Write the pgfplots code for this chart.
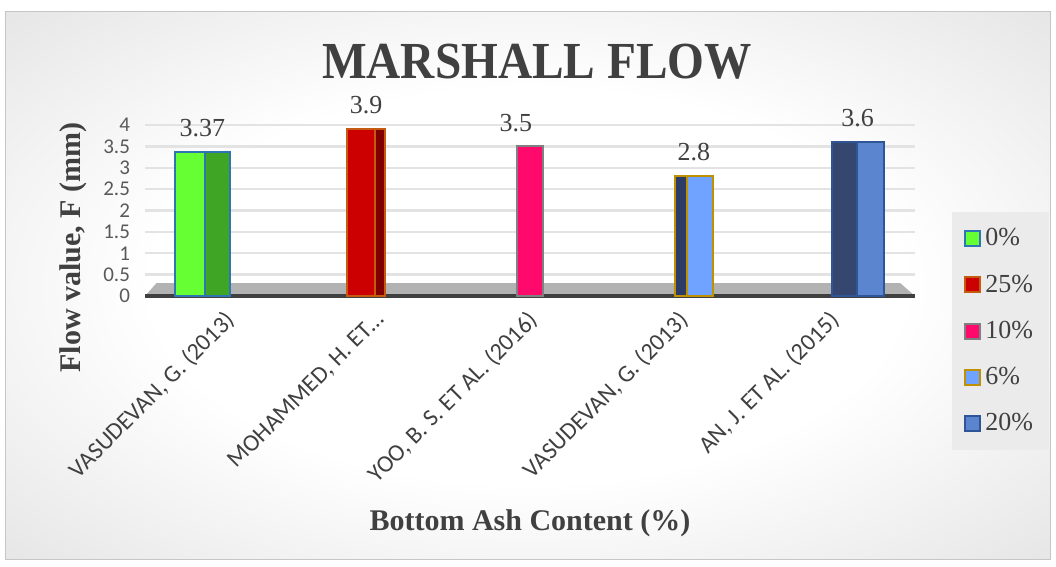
\documentclass[border=0pt]{standalone}
\usepackage{pgfplots}
\pgfplotsset{compat=1.18}
\usepackage{fontspec}
\setmainfont{Liberation Serif}
\newfontfamily\calib{Carlito}
\definecolor{txt}{HTML}{404040}
\definecolor{tickc}{HTML}{595959}
\definecolor{gA}{HTML}{66FF33}
\definecolor{gAs}{HTML}{3FA524}
\definecolor{gAe}{HTML}{2E75B6}
\definecolor{rB}{HTML}{CC0000}
\definecolor{rBs}{HTML}{800000}
\definecolor{rBe}{HTML}{C55A11}
\definecolor{pC}{HTML}{FF0A6C}
\definecolor{pCe}{HTML}{808080}
\definecolor{bD}{HTML}{6FA3FF}
\definecolor{bDs}{HTML}{2B3D66}
\definecolor{bDe}{HTML}{BF9000}
\definecolor{bE}{HTML}{5B86CF}
\definecolor{bEs}{HTML}{35476F}
\definecolor{bEe}{HTML}{2F5597}
\pgfdeclareradialshading{bgshade}{\pgfpoint{0bp}{0bp}}{color(0bp)=(white); color(18bp)=(white); color(50bp)=(gray!36); color(72bp)=(gray!46)}
\pgfplotsset{sq/.style={legend image code/.code={\draw[##1,line width=1pt] (0pt,-3.75pt) rectangle (7.5pt,3.75pt);}}}
\begin{document}
\begin{tikzpicture}
\useasboundingbox (0,0) rectangle (528pt,283.5pt);
\shade[shading=bgshade] (2.5pt,3.5pt) rectangle (525pt,277.5pt);
\draw[gray!45, line width=0.5pt] (2.5pt,3.5pt) rectangle (525pt,277.5pt);
\node[font=\fontsize{26}{30}\selectfont\bfseries, text=txt, xscale=0.91] at (268.5pt,252.5pt) {MARSHALL FLOW};
\node[font=\fontsize{15}{18}\selectfont\bfseries, text=txt] at (265pt,22pt) {Bottom Ash Content (\%)};
\node[font=\fontsize{15}{18}\selectfont\bfseries, text=txt, rotate=90] at (36.5pt,159.75pt) {Flow value, F (mm)};
\begin{axis}[
  at={(72.5pt,135.5pt)}, anchor=south west,
  scale only axis, width=385pt, height=85.5pt,
  xmin=-0.35, xmax=4.35, ymin=0, ymax=4,
  clip=false,
  axis line style={draw=none},
  tick style={draw=none},
  ymajorgrids, grid style={gray!22, line width=1.2pt},
  ytick={0,0.5,...,4},
  /pgf/number format/assume math mode=true,
  yticklabel style={font=\calib\fontsize{10.5}{12}\selectfont, text=tickc, xshift=-4pt},
  xtick={0.19,1.11,2.04,2.96,3.88},
  xticklabels={{VASUDEVAN, G. (2013)}, {MOHAMMED, H. ET\ldots}, {YOO, B. S. ET AL. (2016)}, {VASUDEVAN, G. (2013)}, {AN, J. ET AL. (2015)}},
  xticklabel style={font=\calib\fontsize{12}{14}\selectfont, text=txt, xshift=-5pt, yshift=-5pt, rotate=45, anchor=north east, inner sep=1pt},
  every node near coord/.append style={font=\fontsize{13}{15}\selectfont, text=txt, anchor=south, inner sep=0pt, yshift=7pt},
  legend style={at={(1.048,0.491)}, anchor=north west, draw=none, fill=gray!16,
     font=\fontsize{13}{15}\selectfont, text=txt, inner xsep=6pt, inner ysep=6pt, row sep=9pt},
  legend cell align=left,
]
\fill[gray!60] (axis cs:-0.35,0) -- (axis cs:-0.28,0.3) -- (axis cs:4.26,0.3) -- (axis cs:4.35,0) -- cycle;
\draw[txt, line width=2pt] (axis cs:-0.35,0) -- (axis cs:4.35,0);
% side faces
\addplot[ybar, bar width=0.152, bar shift=0.095, fill=gAs, draw=gAe, line width=1pt, forget plot] coordinates {(0,3.37)};
\addplot[ybar, bar width=0.061, bar shift=0.085, fill=rBs, draw=rBe, line width=1pt, forget plot] coordinates {(1,3.9)};
\addplot[ybar, bar width=0.073, bar shift=-0.079, fill=bDs, draw=bDe, line width=1pt, forget plot] coordinates {(3,2.8)};
\addplot[ybar, bar width=0.152, bar shift=-0.082, fill=bEs, draw=bEe, line width=1pt, forget plot] coordinates {(4,3.6)};
% front faces
\addplot[ybar, bar width=0.183, bar shift=-0.073, fill=gA, draw=gAe, line width=1pt, sq, nodes near coords] coordinates {(0,3.37)};
\addlegendentry{0\%}
\addplot[ybar, bar width=0.171, bar shift=-0.03, fill=rB, draw=rBe, line width=1pt, sq, nodes near coords] coordinates {(1,3.9)};
\addlegendentry{25\%}
\addplot[ybar, bar width=0.159, bar shift=0, fill=pC, draw=pCe, line width=1pt, sq, nodes near coords, every node near coord/.append style={xshift=-7pt}] coordinates {(2,3.5)};
\addlegendentry{10\%}
\addplot[ybar, bar width=0.159, bar shift=0.037, fill=bD, draw=bDe, line width=1pt, sq, nodes near coords] coordinates {(3,2.8)};
\addlegendentry{6\%}
\addplot[ybar, bar width=0.165, bar shift=0.076, fill=bE, draw=bEe, line width=1pt, sq, nodes near coords] coordinates {(4,3.6)};
\addlegendentry{20\%}
\end{axis}
\end{tikzpicture}
\end{document}
